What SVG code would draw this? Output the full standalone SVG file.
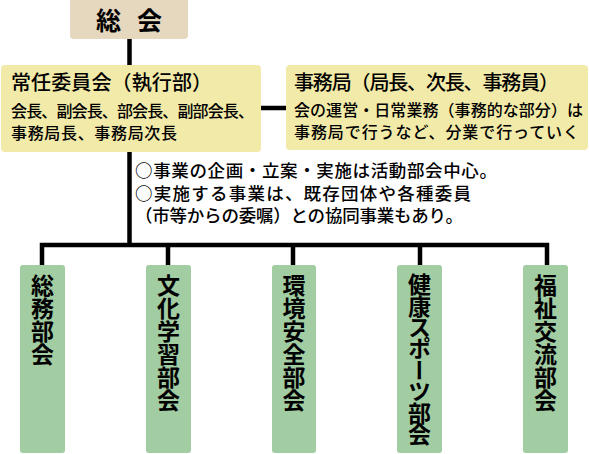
<svg xmlns="http://www.w3.org/2000/svg" width="589" height="454" viewBox="0 0 589 454">
<style>
text{font-family:"Noto Sans CJK JP","Noto Sans CJK SC",sans-serif;fill:#000}
.tan{fill:#e6d7bf}
.yel{fill:#f2eaa8}
.grn{fill:#a2cca2}
.t{font-size:20px;font-weight:500}
.s{font-size:16px;font-weight:500}
.n{font-size:17.5px;font-weight:500}
.v{font-size:23px;font-weight:700;writing-mode:vertical-rl}
.ln{fill:none;stroke:#000;stroke-width:4.5}
</style>
<g id="connectors">
<path class="ln" d="M129.5 39V65M129.5 152V245M260 108H286"/>
<path class="ln" d="M42 265V245H547V265M168 245V265M293 245V265M420 245V265"/>
</g>
<g id="soukai">
<rect class="tan" x="70" y="-4" width="118" height="43" rx="4"/>
<text x="96" y="30" font-size="25" font-weight="700" textLength="66" lengthAdjust="spacing">総 会</text>
</g>
<g id="jonin">
<rect class="yel" x="1" y="65" width="260" height="87" rx="4"/>
<text class="t" x="11" y="90" textLength="201" lengthAdjust="spacing">常任委員会（執行部）</text>
<text class="s" x="11" y="117" textLength="243" lengthAdjust="spacing">会長、副会長、部会長、副部会長、</text>
<text class="s" x="11" y="139" textLength="166" lengthAdjust="spacing">事務局長、事務局次長</text>
</g>
<g id="jimukyoku">
<rect class="yel" x="286" y="65" width="302" height="85" rx="4"/>
<text class="t" x="294" y="90" textLength="265" lengthAdjust="spacing">事務局（局長、次長、事務員）</text>
<text class="s" x="294" y="116" textLength="289" lengthAdjust="spacing">会の運営・日常業務（事務的な部分）は</text>
<text class="s" x="294" y="138" textLength="285" lengthAdjust="spacing">事務局で行うなど、分業で行っていく</text>
</g>
<g id="note">
<text class="n" x="135" y="177" textLength="362" lengthAdjust="spacing">○事業の企画・立案・実施は活動部会中心。</text>
<text class="n" x="135" y="199.5" textLength="336" lengthAdjust="spacing">○実施する事業は、既存団体や各種委員</text>
<text class="n" x="135" y="222" textLength="328" lengthAdjust="spacing">（市等からの委嘱）との協同事業もあり。</text>
</g>
<g id="somu">
<rect class="grn" x="20" y="265" width="45" height="188" rx="3"/>
<text class="v" x="42.5" y="274">総務部会</text>
</g>
<g id="bunka">
<rect class="grn" x="146" y="265" width="45" height="188" rx="3"/>
<text class="v" x="168.5" y="274">文化学習部会</text>
</g>
<g id="kankyo">
<rect class="grn" x="272" y="265" width="44" height="188" rx="3"/>
<text class="v" x="294" y="274">環境安全部会</text>
</g>
<g id="kenko">
<rect class="grn" x="397" y="265" width="45" height="188" rx="3"/>
<text class="v" x="419.5" y="273" letter-spacing="-1.6">健康スポーツ部会</text>
</g>
<g id="fukushi">
<rect class="grn" x="523" y="265" width="45" height="188" rx="3"/>
<text class="v" x="545.5" y="274">福祉交流部会</text>
</g>
</svg>
